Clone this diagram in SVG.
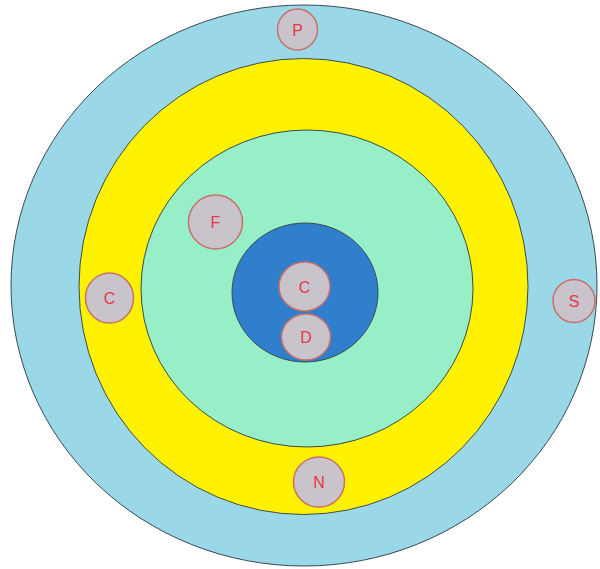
<svg xmlns="http://www.w3.org/2000/svg" width="600" height="569" viewBox="0 0 600 569">
<style>
.ring{stroke:#3a4a50;stroke-width:1}
.node{fill:#c9c3cc;stroke:#c8706a;stroke-width:1.5}
.lbl{font-family:"Liberation Sans",Arial,sans-serif;font-size:16px;fill:#e23a45;text-anchor:middle;dominant-baseline:central}
</style>
<rect width="600" height="569" fill="#ffffff"/>
<g id="rings">
<ellipse id="ring-outer" class="ring" cx="304" cy="285.5" rx="293" ry="280.5" fill="#9ad8e8"/>
<ellipse id="ring-yellow" class="ring" cx="303.5" cy="286.5" rx="224.5" ry="228" fill="#fff200"/>
<ellipse id="ring-green" class="ring" cx="307" cy="288.5" rx="166" ry="158.5" fill="#96efc6"/>
<ellipse id="ring-core" class="ring" cx="305" cy="292.5" rx="73" ry="69.5" fill="#2f7fcc"/>
</g>
<g id="connectors"></g>
<g id="node-P"><ellipse class="node" cx="297.5" cy="29.5" rx="20" ry="20.5"/><text class="lbl" x="297.5" y="30">P</text></g>
<g id="node-F"><ellipse class="node" cx="215.5" cy="222" rx="27" ry="27"/><text class="lbl" x="215.5" y="222.5">F</text></g>
<g id="node-C-left"><ellipse class="node" cx="109.5" cy="298" rx="24" ry="25"/><text class="lbl" x="109.5" y="298.5">C</text></g>
<g id="node-S"><ellipse class="node" cx="574" cy="301" rx="21" ry="21.5"/><text class="lbl" x="574" y="301.5">S</text></g>
<g id="node-C-center"><ellipse class="node" cx="304.5" cy="286.5" rx="25.5" ry="24.5"/><text class="lbl" x="304.5" y="287">C</text></g>
<g id="node-D"><ellipse class="node" cx="306" cy="337" rx="24.5" ry="23"/><text class="lbl" x="306" y="337.5">D</text></g>
<g id="node-N"><ellipse class="node" cx="319" cy="482" rx="25.5" ry="25"/><text class="lbl" x="319" y="482.5">N</text></g>
</svg>
